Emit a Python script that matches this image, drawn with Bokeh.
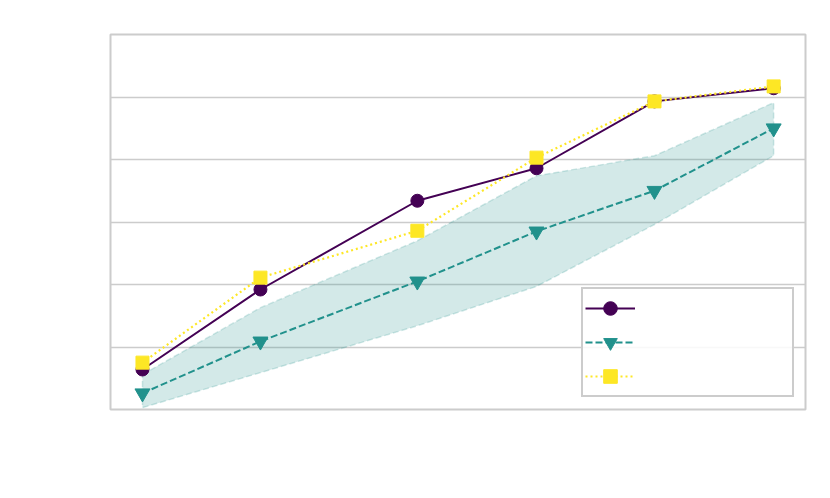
from bokeh.plotting import figure
from bokeh.models import Range1d, FixedTicker, Legend, LegendItem, ColumnDataSource
from bokeh.embed import file_html
from bokeh.resources import INLINE

# data
x = [0, 1, 2.33, 3.34, 4.34, 5.35]
s1 = [0.64, 1.92, 3.34, 3.86, 4.93, 5.14]
s2 = [0.26, 1.09, 2.05, 2.85, 3.50, 4.50]
s3 = [0.75, 2.11, 2.86, 4.03, 4.93, 5.17]
band_upper = [0.56, 1.63, 2.70, 3.74, 4.06, 4.91]
band_lower = [0.03, 0.59, 1.34, 1.97, 2.96, 4.06]
y_ticks = [0, 1, 2, 3, 4, 5, 6]

PURPLE = "#440154"
TEAL = "#21918c"
YELLOW = "#fde725"

p = figure(width=814, height=482, output_backend="svg", toolbar_location=None,
           x_range=Range1d(-0.271, 5.62), y_range=Range1d(0, 6),
           min_border_left=110, min_border_right=9, min_border_top=34, min_border_bottom=73)
p.xaxis.visible = False
p.yaxis.visible = False
p.xgrid.visible = False
p.ygrid.ticker = FixedTicker(ticks=y_ticks)
p.ygrid.grid_line_color = "#cccccc"
p.ygrid.grid_line_width = 1.5
p.outline_line_color = "#cccccc"
p.outline_line_width = 2
p.background_fill_color = "white"
p.border_fill_color = "white"

# band
px = list(x) + list(reversed(x))
py = list(band_upper) + list(reversed(band_lower))
p.patch(px, py, fill_color=TEAL, fill_alpha=0.2, line_color=TEAL, line_alpha=0.2,
        line_dash="6 3", line_width=1.5)

src = ColumnDataSource(dict(x=x, s1=s1, s2=s2, s3=s3))

l1 = p.line("x", "s1", source=src, line_color=PURPLE, line_width=2)
m1 = p.scatter("x", "s1", source=src, marker="circle", size=13, fill_color=PURPLE, line_color=PURPLE)
l2 = p.line("x", "s2", source=src, line_color=TEAL, line_width=2, line_dash="7 3")
m2 = p.scatter("x", "s2", source=src, marker="inverted_triangle", size=15, fill_color=TEAL, line_color=TEAL)
l3 = p.line("x", "s3", source=src, line_color=YELLOW, line_width=2.2, line_dash="2 3")
m3 = p.scatter("x", "s3", source=src, marker="square", size=13, fill_color=YELLOW, line_color=YELLOW)

legend = Legend(items=[LegendItem(label="", renderers=[l1, m1]),
                       LegendItem(label="", renderers=[l2, m2]),
                       LegendItem(label="", renderers=[l3, m3])],
                location=(471, 12), padding=2, spacing=0, glyph_height=34, glyph_width=50,
                label_standoff=5, label_width=150, margin=0,
                border_line_color="#cccccc", border_line_width=2, border_line_alpha=1,
                background_fill_alpha=0.85)
p.add_layout(legend, "center")

open("out.html", "w").write(file_html(p, INLINE))
